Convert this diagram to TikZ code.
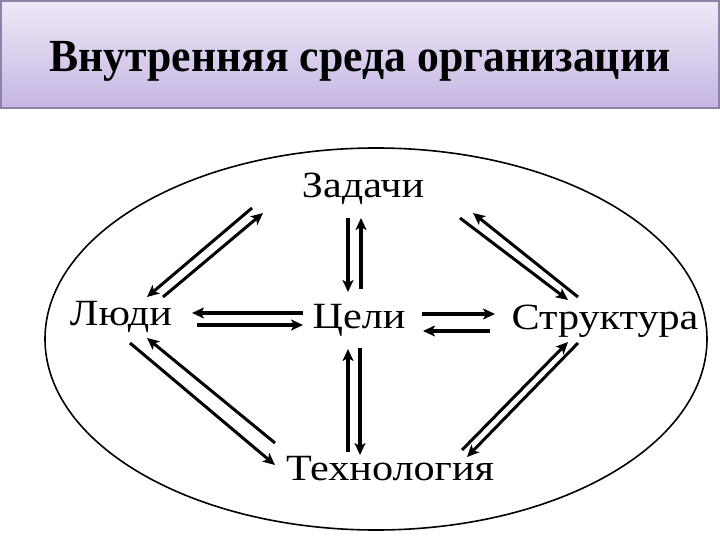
\documentclass[tikz,border=0pt]{standalone}
\usepackage{fontspec}
\IfFontExistsTF{LiberationSerif-Regular.ttf}
  {\setmainfont{LiberationSerif}[Extension=.ttf,UprightFont=*-Regular,BoldFont=*-Bold]
   \newfontfamily\ttlfont{LiberationSerif-Bold.ttf}}
  {\setmainfont{Liberation Serif}\newfontfamily\ttlfont{Liberation Serif Bold}}
\usetikzlibrary{arrows.meta}
\definecolor{ttop}{HTML}{EEE8F7}
\definecolor{tbot}{HTML}{C6B6E2}
\definecolor{tborder}{HTML}{8E82A6}
\tikzset{
  lbl/.style={font=\fontsize{37}{40}\selectfont, inner sep=0pt, anchor=base, xscale=1.14},
  arr/.style={line width=3.6pt, -{Stealth[length=12pt,width=11pt,inset=3pt]}},
  darr/.style={line width=3pt, -{Stealth[length=12pt,width=11pt,inset=3pt]}},
}
\begin{document}
\begin{tikzpicture}[x=1pt,y=-1pt]
\useasboundingbox (0,0) rectangle (720,540);
\fill[white] (0,0) rectangle (720,540);
% title bar
\shade[top color=ttop, bottom color=tbot] (1,1) rectangle (719,108);
\draw[tborder, line width=1.5pt] (1,1) rectangle (719,108);
\node[inner sep=0pt, anchor=base, font=\ttlfont\fontsize{46}{48}\selectfont, xscale=0.95] (title) at (360,72) {Внутренняя среда организации};
% ellipse
\draw[line width=1.6pt] (376,339) ellipse [x radius=331, y radius=191];
% labels
\node[lbl] (zad) at (363,197) {Задачи};
\node[lbl] (lud) at (121,325) {Люди};
\node[lbl] (cel) at (359,328) {Цели};
\node[lbl] (str) at (605,329) {Структура};
\node[lbl] (teh) at (390,480) {Технология};
% connector end points
\coordinate (a1) at (303,313); \coordinate (a2) at (192,313);
\coordinate (b1) at (197,325); \coordinate (b2) at (303,325);
\coordinate (c1) at (422,314); \coordinate (c2) at (495,314);
\coordinate (d1) at (490,331); \coordinate (d2) at (423,331);
\coordinate (e1) at (348,218); \coordinate (e2) at (348,292);
\coordinate (f1) at (361,289); \coordinate (f2) at (361,218);
\coordinate (g1) at (348,452); \coordinate (g2) at (348,349);
\coordinate (h1) at (360,348); \coordinate (h2) at (360,455);
\coordinate (i1) at (252,208); \coordinate (i2) at (147,297);
\coordinate (j1) at (163,297); \coordinate (j2) at (263,213);
\coordinate (k1) at (460,218); \coordinate (k2) at (568,300);
\coordinate (l1) at (578,297); \coordinate (l2) at (473,213);
\coordinate (m1) at (130,343); \coordinate (m2) at (275,465);
\coordinate (n1) at (275,443); \coordinate (n2) at (147,338);
\coordinate (o1) at (578,343); \coordinate (o2) at (467,457);
\coordinate (p1) at (462,450); \coordinate (p2) at (568,342);
% connectors
\draw[arr] (a1) -- (a2);
\draw[arr] (b1) -- (b2);
\draw[arr] (c1) -- (c2);
\draw[arr] (d1) -- (d2);
\draw[arr] (e1) -- (e2);
\draw[arr] (f1) -- (f2);
\draw[arr] (g1) -- (g2);
\draw[arr] (h1) -- (h2);
\draw[darr] (i1) -- (i2);
\draw[darr] (j1) -- (j2);
\draw[darr] (k1) -- (k2);
\draw[darr] (l1) -- (l2);
\draw[darr] (m1) -- (m2);
\draw[darr] (n1) -- (n2);
\draw[darr] (o1) -- (o2);
\draw[darr] (p1) -- (p2);
\end{tikzpicture}
\end{document}
